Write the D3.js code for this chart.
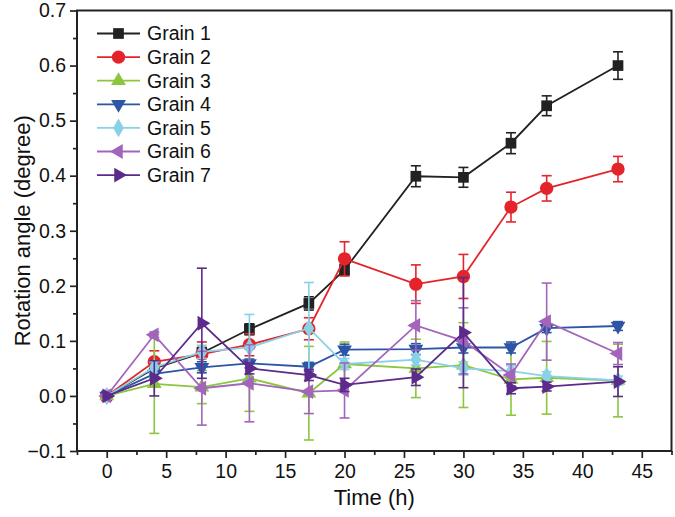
<!DOCTYPE html>
<html>
<head>
<meta charset="utf-8">
<script src="https://cdn.jsdelivr.net/npm/d3@7"></script>
<style>
    body { margin: 0; background: #fff; }
    text { font-family: Arial, "Liberation Sans", sans-serif; fill: #111; }
</style>
</head>
<body>
<div id="chart"></div>
<script>
const dim = {
    width: 675,
    height: 517,
    left: 77,
    top: 10.5,
    right: 671.5,
    bottom: 451
}

// data
const times = [0, 4, 8, 12, 17, 20, 26, 30, 34, 37, 43]
const seriesNames = ['Grain 1', 'Grain 2', 'Grain 3', 'Grain 4', 'Grain 5', 'Grain 6', 'Grain 7']

const grain1 = [0, 0.050, 0.078, 0.121, 0.168, 0.229, 0.399, 0.397, 0.459, 0.527, 0.600]
const grain1Err = [0, 0.01, 0.01, 0.01, 0.012, 0.01, 0.019, 0.018, 0.019, 0.018, 0.025]
const grain2 = [0, 0.062, 0.076, 0.093, 0.122, 0.249, 0.203, 0.217, 0.343, 0.377, 0.412]
const grain2Err = [0, 0.02, 0.022, 0.02, 0.02, 0.031, 0.035, 0.04, 0.027, 0.023, 0.023]
const grain3 = [0, 0.022, 0.016, 0.032, 0.005, 0.058, 0.050, 0.056, 0.030, 0.033, 0.028]
const grain3Err = [0, 0.09, 0.03, 0.06, 0.085, 0.04, 0.053, 0.077, 0.065, 0.066, 0.066]
const grain4 = [0, 0.040, 0.052, 0.059, 0.053, 0.084, 0.085, 0.088, 0.088, 0.123, 0.127]
const grain4Err = [0, 0.008, 0.01, 0.008, 0.008, 0.01, 0.01, 0.01, 0.01, 0.008, 0.008]
const grain5 = [0, 0.052, 0.080, 0.088, 0.123, 0.058, 0.066, 0.050, 0.045, 0.036, 0.028]
const grain5Err = [0, 0.01, 0.012, 0.06, 0.083, 0.01, 0.01, 0.012, 0.01, 0.008, 0.008]
const grain6 = [0, 0.111, 0.014, 0.023, 0.008, 0.010, 0.128, 0.100, 0.038, 0.135, 0.077]
const grain6Err = [0, 0.005, 0.067, 0.07, 0.04, 0.05, 0.045, 0.06, 0.02, 0.07, 0.02]
const grain7 = [0, 0.032, 0.132, 0.050, 0.038, 0.020, 0.034, 0.115, 0.014, 0.017, 0.026]
const grain7Err = [0, 0.032, 0.1, 0.01, 0.01, 0.012, 0.015, 0.1, 0.01, 0.008, 0.027]

const colors = ['#222222', '#e3252b', '#8cc63e', '#2c55a6', '#89d2e6', '#a364bb', '#5b2a8a']
const shapes = ['square', 'circle', 'up', 'down', 'diamond', 'left', 'right']

const yTicks = [-0.1, 0, 0.1, 0.2, 0.3, 0.4, 0.5, 0.6, 0.7]
const xTicks = [0, 5, 10, 15, 20, 25, 30, 35, 40, 45]

const values = [grain1, grain2, grain3, grain4, grain5, grain6, grain7]
const errors = [grain1Err, grain2Err, grain3Err, grain4Err, grain5Err, grain6Err, grain7Err]

const series = seriesNames.map((name, i) => ({
    name: name,
    color: colors[i],
    shape: shapes[i],
    points: times.map((t, j) => ({ t: t, v: values[i][j], e: errors[i][j] }))
}))

const svg = d3.select('#chart')
    .append('svg')
        .attr('width', dim.width)
        .attr('height', dim.height)

// scales
const xScale = d3.scaleLinear()
    .domain([-2.5, 47.5])
    .range([dim.left, dim.right])

const yScale = d3.scaleLinear()
    .domain([-0.1, 0.7])
    .range([dim.bottom, dim.top])

// marker shapes
function markerPath(shape) {
    if (shape === 'square') return d3.symbol(d3.symbolSquare, 115)()
    if (shape === 'circle') return d3.symbol(d3.symbolCircle, 140)()
    if (shape === 'diamond') return d3.symbol(d3.symbolDiamond, 100)()
    return d3.symbol(d3.symbolTriangle, 95)()
}
function markerRotate(shape) {
    if (shape === 'down') return 180
    if (shape === 'left') return -90
    if (shape === 'right') return 90
    return 0
}

// series
const line = d3.line()
    .x(d => xScale(d.t))
    .y(d => yScale(d.v))

const groups = svg.append('g')
    .selectAll('g')
    .data(series)
    .join('g')
        .attr('class', 'series')

groups.append('path')
    .attr('d', d => line(d.points))
    .attr('fill', 'none')
    .attr('stroke', d => d.color)
    .attr('stroke-width', 1.8)

const capW = 5
groups.each(function(s) {
    const g = d3.select(this)
    const bars = g.append('g')
        .attr('stroke', s.color)
        .attr('stroke-width', 1.6)
        .selectAll('g')
        .data(s.points.filter(p => p.e > 0))
        .join('g')
    bars.append('line')
        .attr('x1', d => xScale(d.t))
        .attr('x2', d => xScale(d.t))
        .attr('y1', d => yScale(d.v - d.e))
        .attr('y2', d => yScale(d.v + d.e))
    bars.append('line')
        .attr('x1', d => xScale(d.t) - capW)
        .attr('x2', d => xScale(d.t) + capW)
        .attr('y1', d => yScale(d.v + d.e))
        .attr('y2', d => yScale(d.v + d.e))
    bars.append('line')
        .attr('x1', d => xScale(d.t) - capW)
        .attr('x2', d => xScale(d.t) + capW)
        .attr('y1', d => yScale(d.v - d.e))
        .attr('y2', d => yScale(d.v - d.e))

    g.append('g')
        .selectAll('path')
        .data(s.points)
        .join('path')
            .attr('d', markerPath(s.shape))
            .attr('transform', d => `translate(${xScale(d.t)},${yScale(d.v)}) rotate(${markerRotate(s.shape)})`)
            .attr('fill', s.color)
})

// axes
const xAxis = d3.axisBottom(xScale)
    .tickValues(xTicks)
    .tickSize(7)
    .tickPadding(6)
    .tickFormat(d3.format('d'))
const xMinor = d3.axisBottom(xScale)
    .tickValues(xTicks.map(t => t + 2.5).concat([-2.5]))
    .tickSize(4)
    .tickFormat('')
const yAxis = d3.axisLeft(yScale)
    .tickValues(yTicks)
    .tickSize(7)
    .tickPadding(4)
    .tickFormat(d3.format('.1f'))
const yMinor = d3.axisLeft(yScale)
    .tickValues(yTicks.slice(0, -1).map(t => t + 0.05))
    .tickSize(4)
    .tickFormat('')

function styleAxis(g) {
    g.select('.domain').remove()
    g.selectAll('.tick line').attr('stroke', '#222').attr('stroke-width', 1.7)
    g.selectAll('.tick text')
        .attr('font-size', 19.5)
        .attr('fill', '#111')
}

svg.append('g')
    .attr('transform', `translate(0,${dim.bottom})`)
    .call(xAxis)
    .call(styleAxis)
svg.append('g')
    .attr('transform', `translate(0,${dim.bottom})`)
    .call(xMinor)
    .call(styleAxis)
svg.append('g')
    .attr('transform', `translate(${dim.left},0)`)
    .call(yAxis)
    .call(styleAxis)
svg.append('g')
    .attr('transform', `translate(${dim.left},0)`)
    .call(yMinor)
    .call(styleAxis)

// frame
svg.append('rect')
    .attr('x', dim.left)
    .attr('y', dim.top)
    .attr('width', dim.right - dim.left)
    .attr('height', dim.bottom - dim.top)
    .attr('fill', 'none')
    .attr('stroke', '#222')
    .attr('stroke-width', 2)

// axis titles
svg.append('text')
    .attr('x', (dim.left + dim.right) / 2)
    .attr('y', 505)
    .attr('text-anchor', 'middle')
    .attr('font-size', 22)
    .text('Time (h)')

svg.append('text')
    .attr('transform', `translate(30,${(dim.top + dim.bottom) / 2}) rotate(-90)`)
    .attr('text-anchor', 'middle')
    .attr('font-size', 22)
    .text('Rotation angle (degree)')

// legend
const legend = svg.append('g')
    .selectAll('g')
    .data(series)
    .join('g')
        .attr('transform', (d, i) => `translate(97,${33.5 + i * 23.6})`)

legend.append('line')
    .attr('x1', 0)
    .attr('x2', 43)
    .attr('stroke', d => d.color)
    .attr('stroke-width', 1.8)
legend.append('path')
    .attr('d', d => markerPath(d.shape))
    .attr('transform', d => `translate(21.5,0) rotate(${markerRotate(d.shape)})`)
    .attr('fill', d => d.color)
legend.append('text')
    .attr('x', 50)
    .attr('dy', '0.35em')
    .attr('font-size', 19.5)
    .text(d => d.name)
</script>
</body>
</html>
